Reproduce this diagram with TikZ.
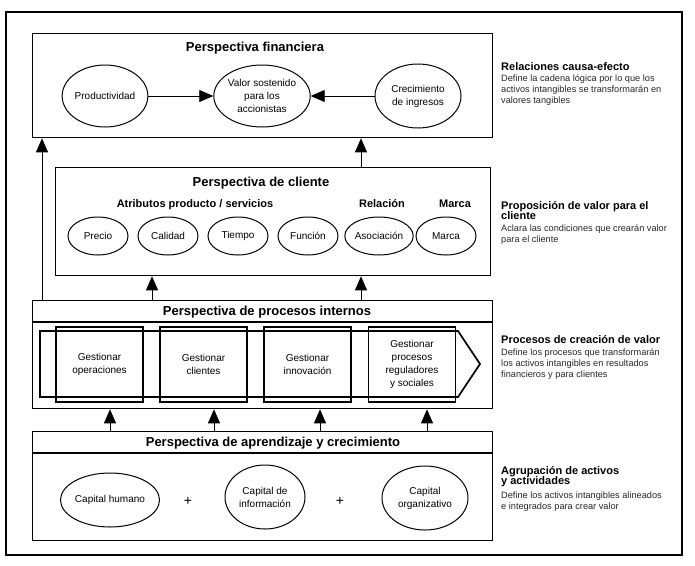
\documentclass[tikz,border=0pt]{standalone}
\usepackage{fontspec}
\setmainfont{Liberation Sans}
\usetikzlibrary{arrows.meta,shapes.geometric}
\begin{document}
\begin{tikzpicture}[x=1pt,y=-1pt,
 box/.style={draw,line width=1.3pt,anchor=north west,inner sep=0pt},
 ell/.style={draw,ellipse,line width=1pt,inner sep=0pt,align=center,font=\fontsize{10}{13}\selectfont},
 gbox/.style={draw,line width=1.1pt,minimum width=87pt,minimum height=75pt,inner sep=0pt,align=center,font=\fontsize{10}{13}\selectfont},
 arr/.style={line width=0.9pt,-{Triangle[length=14pt,width=12pt]}},
 ptitle/.style={anchor=base,inner sep=0pt,font=\fontsize{13}{15}\selectfont\bfseries},
 stitle/.style={anchor=base,inner sep=0pt,font=\fontsize{11}{13}\selectfont\bfseries},
 rhead/.style={anchor=base west,inner sep=0pt,font=\fontsize{11}{13}\selectfont\bfseries},
 rbody/.style={anchor=base west,inner sep=0pt,font=\fontsize{9.2}{11}\selectfont,text=black!85},
 plus/.style={inner sep=0pt,font=\fontsize{14}{14}\selectfont},
]
\useasboundingbox (0,0) rectangle (695,565);
\draw[line width=1.1pt] (6,12) rectangle (682,555);

% boxes
\node[box,minimum width=460pt,minimum height=104pt] (fin) at (32,33) {};
\node[box,minimum width=435pt,minimum height=108pt] (cli) at (55,167) {};
\node[box,minimum width=460pt,minimum height=108pt] (proc) at (32,300) {};
\node[box,minimum width=460pt,minimum height=109pt] (learn) at (32,431) {};
\draw[line width=1.3pt] (32,322) -- (492,322);
\draw[line width=1.3pt] (32,453) -- (492,453);

% financial
\node[ptitle] (tfin) at (255,51) {Perspectiva financiera};
\node[ell,minimum width=84pt,minimum height=62pt] (prod) at (105,96) {Productividad};
\node[ell,minimum width=86pt,minimum height=62pt] (valor) at (262,96) {Valor sostenido\\para los\\accionistas};
\node[ell,minimum width=86pt,minimum height=64pt] (crec) at (418,96) {Crecimiento\\de ingresos};
\draw[arr] (prod) -- (valor);
\draw[arr] (crec) -- (valor);

% client
\node[ptitle] (tcli) at (261,186) {Perspectiva de cliente};
\node[stitle] (atr) at (195,207) {Atributos producto / servicios};
\node[stitle] (rel) at (382,207) {Relación};
\node[stitle] (mar) at (455,207) {Marca};
\foreach \n/\x/\t in {precio/98/Precio,calidad/168/Calidad,tiempo/238/Tiempo,funcion/308/Función,asoc/379/Asociación,marca/446/Marca}
  \node[ell,minimum width=60pt,minimum height=38pt] (\n) at (\x,236) {\t};

% processes
\node[ptitle] (tproc) at (267,315) {Perspectiva de procesos internos};
\draw[line width=1.7pt] (40,331) -- (458,331) -- (480,364) -- (458,397) -- (40,397) -- cycle;
\node[gbox] (gop) at (99.5,364.5) {Gestionar\\operaciones};
\node[gbox] (gcl) at (203.5,364.5) {Gestionar\\clientes};
\node[gbox] (gin) at (307.5,364.5) {Gestionar\\innovación};
\node[gbox] (gpr) at (412,364.5) {Gestionar\\procesos\\reguladores\\y sociales};

% learning
\node[ptitle] (tlearn) at (273,446) {Perspectiva de aprendizaje y crecimiento};
\node[ell,minimum width=86pt,minimum height=54pt] (hum) at (110,500) {Capital humano};
\node[ell,minimum width=80pt,minimum height=64pt] (info) at (265,497) {Capital de\\información};
\node[ell,minimum width=86pt,minimum height=64pt] (org) at (425,498) {Capital\\organizativo};
\node[plus] (p1) at (188,501) {+};
\node[plus] (p2) at (340,501) {+};

% vertical arrows
\draw[arr] (proc.north -| 42,0) -- (fin.south -| 42,0);
\draw[arr] (cli.north -| 361,0) -- (fin.south -| 361,0);
\draw[arr] (proc.north -| 152,0) -- (cli.south -| 152,0);
\draw[arr] (proc.north -| 361,0) -- (cli.south -| 361,0);
\foreach \x in {110,214,320,427}
  \draw[arr] (learn.north -| \x,0) -- (proc.south -| \x,0);

% right side texts
\node[rhead] (h1) at (501,70) {Relaciones causa-efecto};
\node[rbody] (b1a) at (501,81) {Define la cadena lógica por lo que los};
\node[rbody] (b1b) at (501,92) {activos intangibles se transformarán en};
\node[rbody] (b1c) at (501,103) {valores tangibles};

\node[rhead] (h2a) at (501,209) {Proposición de valor para el};
\node[rhead] (h2b) at (501,219) {cliente};
\node[rbody] (b2a) at (501,231) {Aclara las condiciones que crearán valor};
\node[rbody] (b2b) at (501,242) {para el cliente};

\node[rhead] (h3) at (501,343) {Procesos de creación de valor};
\node[rbody] (b3a) at (501,355) {Define los procesos que transformarán};
\node[rbody] (b3b) at (501,366) {los activos intangibles en resultados};
\node[rbody] (b3c) at (501,377) {financieros y para clientes};

\node[rhead] (h4a) at (501,474) {Agrupación de activos};
\node[rhead] (h4b) at (501,484) {y actividades};
\node[rbody] (b4a) at (501,498) {Define los activos intangibles alineados};
\node[rbody] (b4b) at (501,509) {e integrados para crear valor};
\end{tikzpicture}
\end{document}
